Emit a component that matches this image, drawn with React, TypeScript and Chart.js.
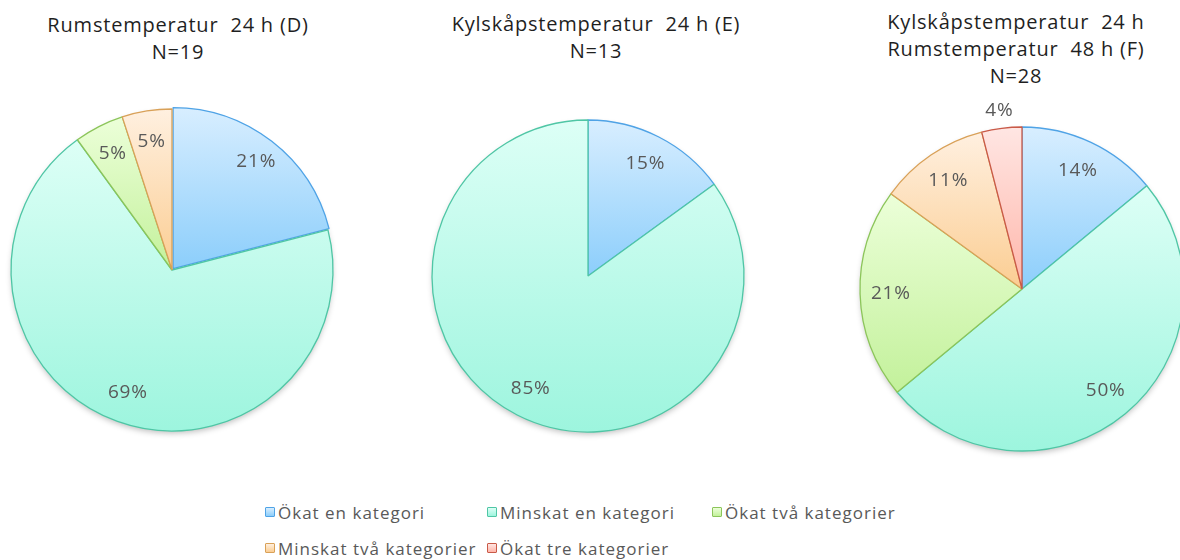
import React, { useEffect, useRef } from "react";
import { Chart, registerables } from "chart.js";

Chart.register(...registerables);

// ---- data ----
const categories = [
  "Ökat en kategori",
  "Minskat en kategori",
  "Ökat två kategorier",
  "Minskat två kategorier",
  "Ökat tre kategorier",
];
const valuesD = [21, 69, 5, 5];
const valuesE = [15, 85];
const valuesF = [14, 50, 21, 11, 4];
const offsetsD = [7, 0, 0, 0];
const titleD = ["Rumstemperatur  24 h (D)", "N=19"];
const titleE = ["Kylskåpstemperatur  24 h (E)", "N=13"];
const titleF = ["Kylskåpstemperatur  24 h", "Rumstemperatur  48 h (F)", "N=28"];

// ---- styles ----
const fillTop = ["#d8eeff", "#ddfff6", "#ecffd9", "#fff0e0", "#ffe6e3"];
const fillBottom = ["#8ccefb", "#9df5de", "#c3f19b", "#fbcd92", "#ffb6aa"];
const borderColors = ["#4fa3e6", "#4fc6a5", "#8cc55a", "#d9a158", "#c95a48"];
const FONT = '"Open Sans", "DejaVu Sans", sans-serif';

function sliceGradient(c: any) {
  const chart = c.chart;
  const area = chart.chartArea;
  const i = c.dataIndex;
  if (!area) return fillTop[i];
  const data: number[] = c.dataset.data;
  const total = data.reduce((a, b) => a + b, 0);
  let before = 0;
  for (let k = 0; k < i; k++) before += data[k];
  const a0 = -Math.PI / 2 + (before / total) * Math.PI * 2;
  const a1 = a0 + (data[i] / total) * Math.PI * 2;
  const cy = (area.top + area.bottom) / 2;
  const R = chart.options.radius as number;
  const ys = [cy, cy + R * Math.sin(a0), cy + R * Math.sin(a1)];
  for (const k of [-Math.PI / 2, Math.PI / 2, (3 * Math.PI) / 2]) {
    if (k >= a0 && k <= a1) ys.push(cy + R * Math.sin(k));
  }
  const y0 = Math.min(...ys);
  const y1 = Math.max(...ys);
  const g = chart.ctx.createLinearGradient(0, y0, 0, Math.max(y1, y0 + 1));
  g.addColorStop(0, fillTop[i]);
  g.addColorStop(1, fillBottom[i]);
  return g;
}

const shadowPlugin = {
  id: "pieShadow",
  beforeDatasetsDraw(chart: any) {
    const meta = chart.getDatasetMeta(0);
    const arc = meta.data[0];
    if (!arc) return;
    const { x, y, outerRadius } = arc.getProps(["x", "y", "outerRadius"], true);
    const ctx = chart.ctx;
    ctx.save();
    ctx.shadowColor = "rgba(0,0,0,0.28)";
    ctx.shadowBlur = 6;
    ctx.shadowOffsetY = 3;
    ctx.fillStyle = "#ffffff";
    ctx.beginPath();
    ctx.arc(x, y, outerRadius - 1, 0, Math.PI * 2);
    ctx.fill();
    ctx.restore();
  },
};

const labelPlugin = {
  id: "pctLabels",
  afterDatasetsDraw(chart: any) {
    const meta = chart.getDatasetMeta(0);
    const ds: number[] = chart.data.datasets[0].data;
    const ctx = chart.ctx;
    ctx.save();
    ctx.font = `19px ${FONT}`;
    try {
      (ctx as any).letterSpacing = "0.8px";
    } catch (e) {}
    ctx.fillStyle = "#595959";
    ctx.textAlign = "center";
    ctx.textBaseline = "middle";
    meta.data.forEach((arc: any, i: number) => {
      const { x, y, startAngle, endAngle, outerRadius } = arc.getProps(
        ["x", "y", "startAngle", "endAngle", "outerRadius"],
        true
      );
      const mid = (startAngle + endAngle) / 2;
      const off = (arc.options && arc.options.offset) || 0;
      const v = ds[i];
      const r = (v < 5 ? outerRadius + 18 : outerRadius * 0.81) + off;
      ctx.fillText(v + "%", x + Math.cos(mid) * r, y + Math.sin(mid) * r);
    });
    ctx.restore();
  },
};

type PieProps = { values: number[]; offsets?: number[]; cx: number; cy: number; R: number };

function Pie({ values, offsets, cx, cy, R }: PieProps) {
  const ref = useRef<HTMLCanvasElement>(null);
  useEffect(() => {
    if (!ref.current) return;
    const chart = new Chart(ref.current, {
      type: "pie",
      data: {
        labels: categories.slice(0, values.length),
        datasets: [
          {
            data: values,
            backgroundColor: sliceGradient as any,
            borderColor: borderColors.slice(0, values.length),
            borderWidth: 1.3,
            offset: offsets || 0,
          } as any,
        ],
      },
      options: {
        responsive: false,
        animation: false,
        radius: R,
        layout: { padding: 0 },
        plugins: {
          legend: { display: false },
          tooltip: { enabled: false },
          title: { display: false },
        },
      } as any,
      plugins: [shadowPlugin, labelPlugin],
    });
    return () => chart.destroy();
  }, []);
  return (
    <canvas
      ref={ref}
      width={400}
      height={400}
      style={{ position: "absolute", left: cx - 200, top: cy - 200, width: 400, height: 400 }}
    />
  );
}

function Title({ lines, cx, top }: { lines: string[]; cx: number; top: number }) {
  return (
    <div
      style={{
        position: "absolute",
        left: cx - 220,
        top,
        width: 440,
        textAlign: "center",
        fontFamily: FONT,
        fontSize: 20,
        lineHeight: "27px",
        color: "#1f1f1f",
        letterSpacing: "0.8px",
        whiteSpace: "pre",
      }}
    >
      {lines.map((l, i) => (
        <div key={i}>{l}</div>
      ))}
    </div>
  );
}

function Legend() {
  const colX = [265, 487, 712];
  const rowY = [512, 548];
  return (
    <>
      {categories.map((c, i) => {
        const col = i % 3;
        const row = Math.floor(i / 3);
        return (
          <div
            key={c}
            style={{
              position: "absolute",
              left: colX[col],
              top: rowY[row] - 12,
              height: 24,
              display: "flex",
              alignItems: "center",
              fontFamily: FONT,
              fontSize: 17,
              color: "#595959",
              letterSpacing: "1px",
              whiteSpace: "nowrap",
            }}
          >
            <span
              style={{
                display: "inline-block",
                width: 8,
                height: 8,
                border: `1px solid ${borderColors[i]}`,
                borderRadius: 1,
                background: `linear-gradient(${fillTop[i]}, ${fillBottom[i]})`,
                marginRight: 3,
              }}
            />
            <span>{c}</span>
          </div>
        );
      })}
    </>
  );
}

export default function App() {
  return (
    <div
      style={{
        position: "fixed",
        left: 0,
        top: 0,
        width: 1180,
        height: 560,
        overflow: "hidden",
        background: "#ffffff",
      }}
    >
      <Title lines={titleD} cx={178} top={11} />
      <Title lines={titleE} cx={596} top={10} />
      <Title lines={titleF} cx={1016} top={8} />
      <Pie values={valuesD} offsets={offsetsD} cx={172} cy={270} R={161} />
      <Pie values={valuesE} cx={588} cy={276} R={156} />
      <Pie values={valuesF} cx={1022} cy={289} R={162} />
      <Legend />
    </div>
  );
}
